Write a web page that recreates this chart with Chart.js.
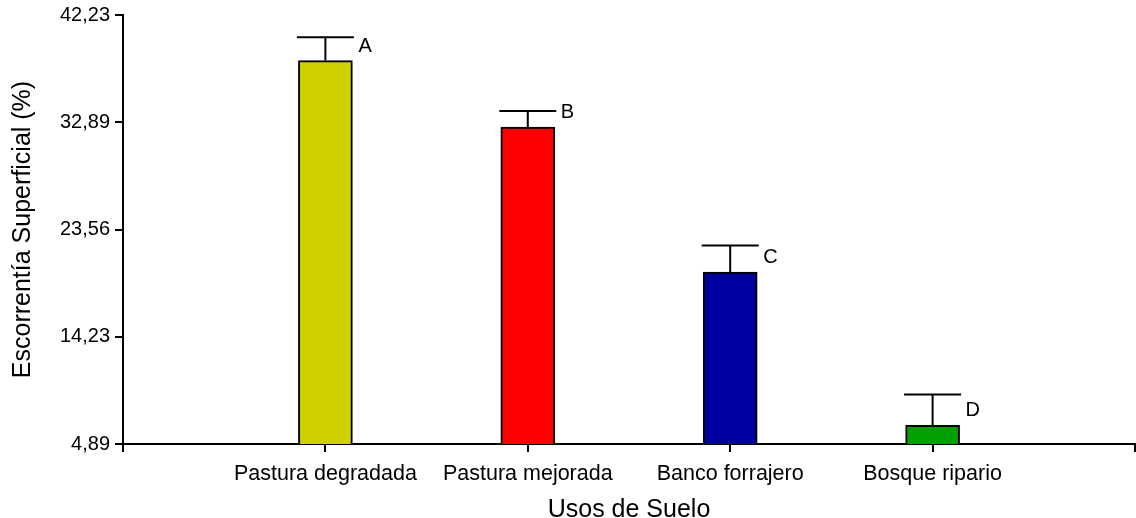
<!DOCTYPE html>
<html>
<head>
<meta charset="utf-8">
<script src="https://cdn.jsdelivr.net/npm/chart.js@4/dist/chart.umd.min.js"></script>
<style>
  html, body { margin: 0; padding: 0; background: #fff; }
  #wrap { width: 1136px; height: 518px; }
</style>
</head>
<body>
<div id="wrap"><canvas id="c" width="1136" height="518"></canvas></div>
<script>
// Land uses and mean surface runoff (%), with the upper end of each error bar
const categories = ['Pastura degradada', 'Pastura mejorada', 'Banco forrajero', 'Bosque ripario'];
const runoff = [38.26, 32.47, 19.86, 6.52];
const runoffUpper = [40.29, 33.88, 22.17, 9.19];
const groupLetters = ['A', 'B', 'C', 'D'];
const barColors = ['#D0D000', '#FF0000', '#0000A0', '#00A000'];
const yTickValues = [4.89, 14.23, 23.56, 32.89, 42.23];
const yTickLabels = ['4,89', '14,23', '23,56', '32,89', '42,23'];

const FONT = "'Liberation Sans', Arial, sans-serif";

// Upper error whiskers and significance letters drawn on top of the bars
const errorBarPlugin = {
  id: 'errorBars',
  afterDatasetsDraw(chart) {
    const { ctx, scales: { x, y } } = chart;
    ctx.save();
    ctx.strokeStyle = '#000';
    ctx.lineWidth = 2;
    ctx.fillStyle = '#000';
    ctx.font = '20px ' + FONT;
    ctx.textAlign = 'left';
    ctx.textBaseline = 'middle';
    runoff.forEach((v, i) => {
      const xp = x.getPixelForValue(i + 1);
      const yBar = y.getPixelForValue(v);
      const yTop = y.getPixelForValue(runoffUpper[i]);
      ctx.beginPath();
      ctx.moveTo(xp, yBar);
      ctx.lineTo(xp, yTop);
      ctx.moveTo(xp - 28.5, yTop);
      ctx.lineTo(xp + 28.5, yTop);
      ctx.stroke();
      ctx.fillText(groupLetters[i], xp + 33, yBar - 14.5);
    });
    ctx.restore();
  }
};

new Chart(document.getElementById('c'), {
  type: 'bar',
  data: {
    datasets: [{
      data: runoff.map((v, i) => ({ x: i + 1, y: v })),
      backgroundColor: barColors,
      borderColor: '#000',
      borderWidth: 2,
      barThickness: 54
    }]
  },
  options: {
    responsive: false,
    devicePixelRatio: 1,
    animation: false,
    layout: { padding: { top: 15, right: 1, left: 0, bottom: 0 } },
    plugins: { legend: { display: false }, tooltip: { enabled: false } },
    scales: {
      x: {
        type: 'linear',
        min: 0,
        max: 5,
        offset: false,
        border: { display: true, color: '#000', width: 2 },
        grid: { display: true, offset: false, drawOnChartArea: false, drawTicks: true, tickLength: 8, color: '#000', lineWidth: 2 },
        ticks: {
          stepSize: 1,
          autoSkip: false,
          maxRotation: 0,
          color: '#000',
          padding: 9,
          font: { family: FONT, size: 21.5 },
          callback: (v) => categories[v - 1] || ''
        },
        title: {
          display: true,
          text: 'Usos de Suelo',
          color: '#000',
          font: { family: FONT, size: 25, lineHeight: 0.6 },
          padding: { top: 0, bottom: 0 }
        },
        afterFit: (s) => { s.height = 74; s.paddingLeft = 0; s.paddingRight = 0; }
      },
      y: {
        min: 4.89,
        max: 42.23,
        beginAtZero: false,
        border: { display: true, color: '#000', width: 2 },
        grid: { display: true, drawOnChartArea: false, drawTicks: true, tickLength: 8, color: '#000', lineWidth: 2 },
        afterBuildTicks: (s) => { s.ticks = yTickValues.map(v => ({ value: v })); },
        ticks: {
          color: '#000',
          padding: 5,
          font: { family: FONT, size: 20 },
          callback: (v, i) => yTickLabels[i]
        },
        title: {
          display: true,
          text: 'Escorrentía Superficial (%)',
          color: '#000',
          font: { family: FONT, size: 25, lineHeight: 1.2 },
          padding: { top: 8, bottom: 0 }
        },
        afterFit: (s) => { s.width = 123; s.paddingTop = 0; s.paddingBottom = 0; }
      }
    }
  },
  plugins: [errorBarPlugin]
});
</script>
</body>
</html>
